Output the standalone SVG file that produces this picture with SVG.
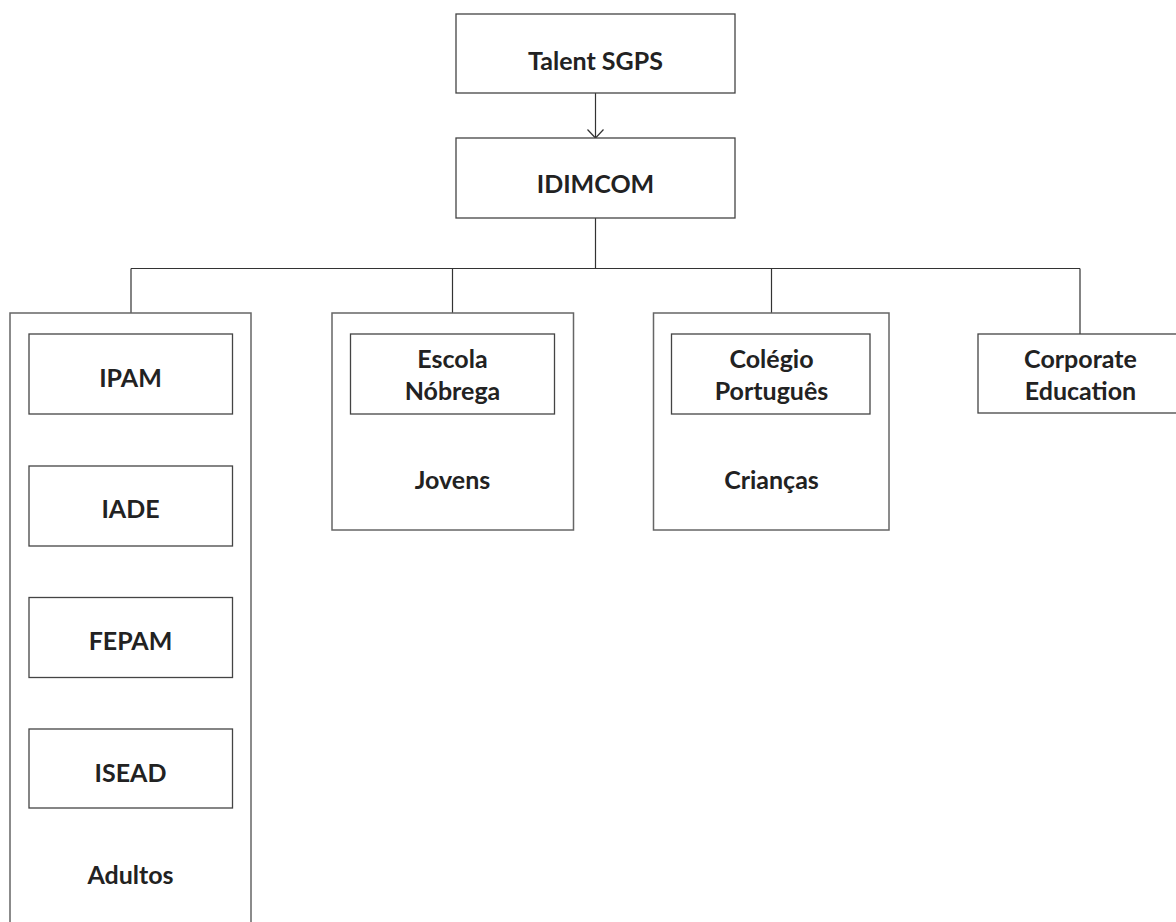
<svg xmlns="http://www.w3.org/2000/svg" width="1176" height="922" viewBox="0 0 1176 922">
<style>
.box{fill:#fff;stroke:#444;stroke-width:1.3}
.cont{fill:none;stroke:#666;stroke-width:1.5}
.ln{fill:none;stroke:#333;stroke-width:1.2}
.t{font-family:Lato,"Liberation Sans",sans-serif;font-weight:700;font-size:25px;fill:#222;text-anchor:middle}
</style>
<defs>
<marker id="arr" markerWidth="20" markerHeight="20" refX="10" refY="10" markerUnits="userSpaceOnUse" orient="auto">
<path d="M1.5,2 L10,10 L1.5,18" fill="none" stroke="#333" stroke-width="1.2"/>
</marker>
</defs>
<rect width="1176" height="922" fill="#fff"/>
<g id="connectors">
<line class="ln" x1="595.5" y1="93" x2="595.5" y2="138" marker-end="url(#arr)"/>
<path class="ln" d="M595.5,218 V268.5 M131,268.5 H1080 M131,268.5 V313 M452.5,268.5 V313 M771.5,268.5 V313 M1080,268.5 V334"/>
</g>
<g id="talent">
<rect class="box" x="456" y="14" width="279" height="79"/>
<text class="t" x="595.5" y="69.5">Talent SGPS</text>
</g>
<g id="idimcom">
<rect class="box" x="456" y="138" width="279" height="80"/>
<text class="t" x="595.5" y="193">IDIMCOM</text>
</g>
<g id="adultos">
<path class="cont" d="M10,930 V313 H251 V930"/>
<text class="t" x="130.5" y="884">Adultos</text>
</g>
<g id="ipam">
<rect class="box" x="29" y="334" width="203.5" height="80"/>
<text class="t" x="130.5" y="387">IPAM</text>
</g>
<g id="iade">
<rect class="box" x="29" y="466" width="203.5" height="80"/>
<text class="t" x="130.5" y="518">IADE</text>
</g>
<g id="fepam">
<rect class="box" x="29" y="597.5" width="203.5" height="80"/>
<text class="t" x="130.5" y="650">FEPAM</text>
</g>
<g id="isead">
<rect class="box" x="29" y="729" width="203.5" height="79"/>
<text class="t" x="130.5" y="782">ISEAD</text>
</g>
<g id="jovens">
<rect class="cont" x="332" y="313" width="241.5" height="217"/>
<text class="t" x="452.5" y="488.5">Jovens</text>
</g>
<g id="nobrega">
<rect class="box" x="350.5" y="334" width="204" height="80"/>
<text class="t" x="452.5" y="368">Escola</text>
<text class="t" x="452.5" y="400">Nóbrega</text>
</g>
<g id="criancas">
<rect class="cont" x="653.5" y="313" width="235.5" height="217"/>
<text class="t" x="771.5" y="488.5">Crianças</text>
</g>
<g id="colegio">
<rect class="box" x="671.5" y="334" width="198.5" height="80"/>
<text class="t" x="771.5" y="368">Colégio</text>
<text class="t" x="771.5" y="400">Português</text>
</g>
<g id="corporate">
<rect class="box" x="978" y="334" width="205" height="79"/>
<text class="t" x="1080.5" y="368">Corporate</text>
<text class="t" x="1080.5" y="400">Education</text>
</g>
</svg>
